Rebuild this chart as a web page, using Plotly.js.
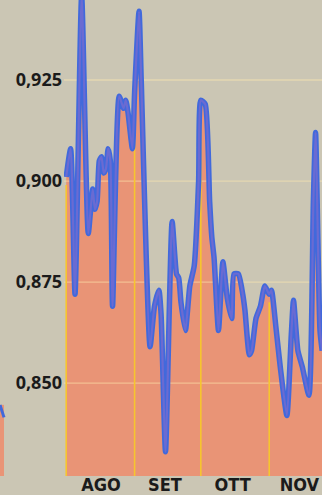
<!DOCTYPE html>
<html><head><meta charset="utf-8">
<script src="https://cdn.plot.ly/plotly-3.0.1.min.js"></script>
<style>html,body{margin:0;padding:0;background:#cbc6b4;}#chart{width:322px;height:495px;}</style>
</head><body><div id="chart"></div>
<script>
// Daily rate
const dates = [
 '2009-08-01','2009-08-03','2009-08-05','2009-08-08','2009-08-11','2009-08-13','2009-08-14','2009-08-15',
 '2009-08-16','2009-08-17','2009-08-18','2009-08-19','2009-08-20','2009-08-21','2009-08-22','2009-08-25',
 '2009-08-27','2009-08-28','2009-08-29','2009-08-31','2009-09-01','2009-09-03','2009-09-04','2009-09-08',
 '2009-09-10','2009-09-12','2009-09-13','2009-09-15','2009-09-18','2009-09-20','2009-09-21','2009-09-22',
 '2009-09-24','2009-09-26','2009-09-28','2009-09-30','2009-10-01','2009-10-03','2009-10-05','2009-10-06',
 '2009-10-07','2009-10-09','2009-10-11','2009-10-13','2009-10-15','2009-10-16','2009-10-18','2009-10-20',
 '2009-10-21','2009-10-23','2009-10-24','2009-10-26','2009-10-28','2009-10-30','2009-11-01','2009-11-02',
 '2009-11-04','2009-11-06','2009-11-09','2009-11-11','2009-11-12','2009-11-14','2009-11-16','2009-11-19',
 '2009-11-21','2009-11-22','2009-11-24','2009-11-25'
];
const values = [
 0.901,0.908,0.872,0.946,0.887,0.898,0.893,0.895,
 0.905,0.906,0.902,0.903,0.908,0.905,0.869,0.921,
 0.918,0.920,0.917,0.908,0.922,0.942,0.925,0.859,
 0.869,0.873,0.867,0.833,0.890,0.877,0.876,0.870,
 0.863,0.874,0.879,0.900,0.920,0.919,0.895,0.886,
 0.881,0.863,0.880,0.871,0.866,0.877,0.877,0.872,
 0.868,0.857,0.858,0.866,0.869,0.874,0.872,0.873,
 0.864,0.854,0.842,0.862,0.8705,0.858,0.854,0.847,
 0.895,0.912,0.863,0.858
];
const monthStarts = ['2009-08-01','2009-09-01','2009-10-01','2009-11-01'];
const monthLabels = ['AGO','SET','OTT','NOV'];
const monthLabelPos = ['2009-08-16 18:00','2009-09-14 18:00','2009-10-15 10:00','2009-11-14 17:00'];
const yTicks = [0.850, 0.875, 0.900, 0.925];
const yTickText = ['0,850','0,875','0,900','0,925'];

const xRange = ['2009-07-31', '2009-11-24 22:00'];
const yRange = [0.827, 0.9448];

// horizontal grid as a trace between fill and line
const hx = [], hy = [];
yTicks.forEach(v => { hx.push(xRange[0], xRange[1], null); hy.push(v, v, null); });
// vertical month lines only inside the filled area
const vx = [], vy = [];
monthStarts.forEach(d => {
  const i = dates.indexOf(d);
  if (i >= 0) { vx.push(d, d, null); vy.push(yRange[0] - 0.01, values[i] - 0.002, null); }
});

const shape = {shape: 'spline', smoothing: 0.55};
const traces = [
  {x: dates, y: values, type: 'scatter', mode: 'lines', fill: 'tozeroy',
   fillcolor: '#e99476', line: Object.assign({width: 0, color: '#e99476'}, shape), hoverinfo: 'skip'},
  {x: hx, y: hy, type: 'scatter', mode: 'lines', line: {color: 'rgba(255,236,175,0.5)', width: 1.3}, hoverinfo: 'skip'},
  {x: vx, y: vy, type: 'scatter', mode: 'lines', line: {color: '#f6c52e', width: 1.6}, hoverinfo: 'skip'},
  {x: dates, y: values, type: 'scatter', mode: 'lines', line: Object.assign({color: '#4169dc', width: 5.5}, shape), hoverinfo: 'skip'},
  {x: dates, y: values, type: 'scatter', mode: 'lines', line: Object.assign({color: '#6a6bd2', width: 2.2}, shape), hoverinfo: 'skip'}
];

const layout = {
  width: 322, height: 495,
  margin: {l: 64, r: 0, t: 0, b: 19, pad: 0},
  paper_bgcolor: '#cbc6b4', plot_bgcolor: '#cbc6b4',
  showlegend: false,
  xaxis: {type: 'date', range: xRange, showgrid: false, zeroline: false, showline: false, ticks: '',
          tickmode: 'array', tickvals: monthLabelPos, ticktext: monthLabels, ticklabelstandoff: -4,
          tickfont: {family: 'Liberation Sans Narrow, DejaVu Sans Condensed, Arial Narrow, sans-serif', size: 18, color: '#1b1b1b', weight: 'bold'},
          fixedrange: true},
  yaxis: {range: yRange, showgrid: false, zeroline: false, showline: false, ticks: '',
          tickmode: 'array', tickvals: yTicks, ticktext: yTickText, ticklabelstandoff: 1,
          tickfont: {family: 'Open Sans, Liberation Sans, sans-serif', size: 18, color: '#1b1b1b', weight: 'bold'},
          fixedrange: true},
  shapes: [
    {type: 'rect', xref: 'paper', yref: 'y', x0: -0.248, x1: -0.2326, y0: yRange[0], y1: 0.8446,
     fillcolor: '#e99476', line: {width: 0}},
    {type: 'line', xref: 'paper', yref: 'y', x0: -0.248, x1: -0.2326, y0: 0.8446, y1: 0.8415,
     line: {color: '#4169dc', width: 3}}
  ]
};
Plotly.newPlot('chart', traces, layout, {displayModeBar: false, staticPlot: true});
</script></body></html>
